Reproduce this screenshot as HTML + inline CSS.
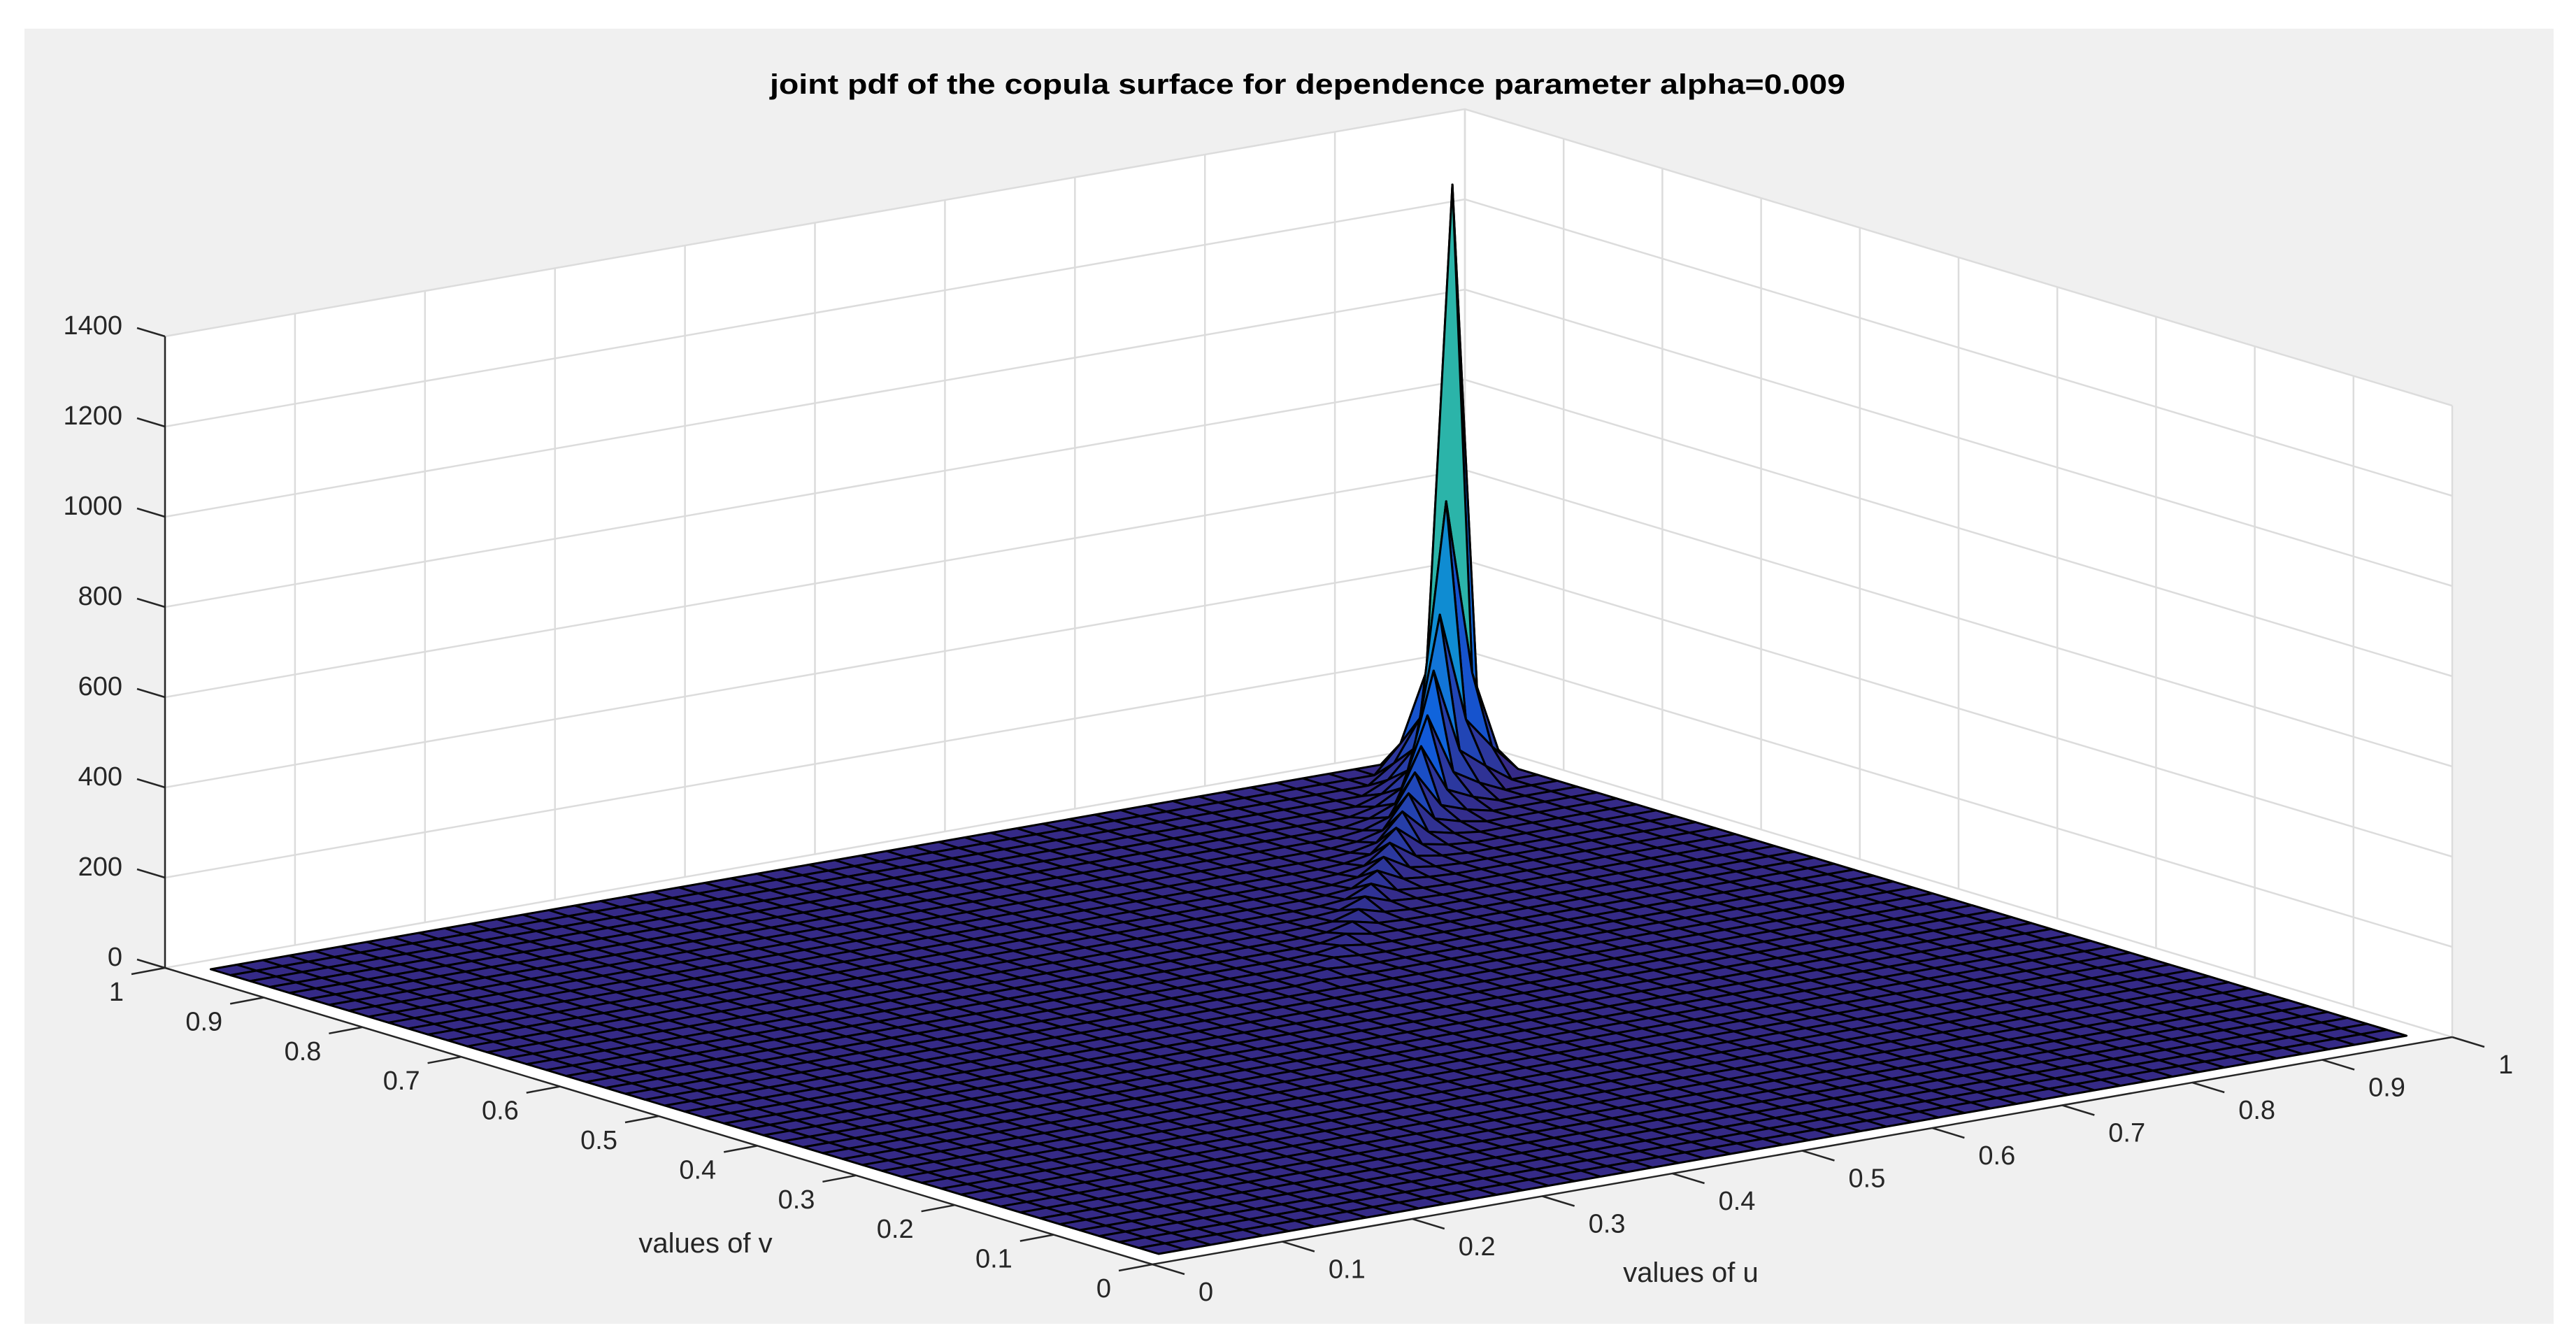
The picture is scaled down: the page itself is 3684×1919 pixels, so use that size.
<!DOCTYPE html>
<html>
<head>
<meta charset="utf-8">
<style>
  html,body{margin:0;padding:0;background:#ffffff;}
  svg{display:block;}
  text{font-family:"Liberation Sans", sans-serif;}
</style>
</head>
<body>
<svg id="chart" width="3684" height="1919" viewBox="0 0 3684 1919" xmlns="http://www.w3.org/2000/svg">
  <rect x="35" y="41" width="3617" height="1852" fill="#f0f0f0"/>
  <g id="walls"></g>
  <g id="surface"></g>
  <g id="axes"></g>
  <text x="1101" y="134" font-size="40" font-weight="bold" fill="#000" textLength="1538" lengthAdjust="spacingAndGlyphs">joint pdf of the copula surface for dependence parameter alpha=0.009</text>
  <text x="2418" y="1833" font-size="40" fill="#262626" text-anchor="middle">values of u</text>
  <text x="1009" y="1791" font-size="40" fill="#262626" text-anchor="middle">values of v</text>
</svg>
<script>
// ---- data ----
const uTicks = [0, 0.1, 0.2, 0.3, 0.4, 0.5, 0.6, 0.7, 0.8, 0.9, 1];
const vTicks = [0, 0.1, 0.2, 0.3, 0.4, 0.5, 0.6, 0.7, 0.8, 0.9, 1];
const zTicks = [0, 200, 400, 600, 800, 1000, 1200, 1400];
const uTickLabels = ["0","0.1","0.2","0.3","0.4","0.5","0.6","0.7","0.8","0.9","1"];
const vTickLabels = ["0","0.1","0.2","0.3","0.4","0.5","0.6","0.7","0.8","0.9","1"];
const zTickLabels = ["0","200","400","600","800","1000","1200","1400"];
const gridStart = 0.02, gridStep = 0.02, gridCount = 49;
const ridgeT    = [0.98, 0.96, 0.94, 0.92, 0.90, 0.88, 0.86, 0.84, 0.82, 0.80, 0.78, 0.76, 0.74, 0.72, 0.70, 0.68, 0.66, 0.64, 0.62, 0.60, 0.58, 0.56, 0.54];
const ridgeDiag = [200, 1279, 600, 372, 271, 195, 150, 115, 92, 75, 62, 52, 44, 37, 31, 26, 21, 17, 13, 10, 7, 5, 3];
const ridgeOff  = [90, 210, 130, 85, 60, 44, 33, 26, 20, 16, 13, 11, 9, 7, 6, 5, 4, 3, 2, 2, 1, 1, 0];
const ridgeOff2 = [30, 60, 40, 26, 18, 13, 10, 7, 5, 4, 3, 3, 2, 2, 1, 1, 1, 0, 0, 0, 0, 0, 0];

// ---- projection ----
const F = [1648, 1808];
const UV = [1859, -325];
const VV = [-1412, -424];
const ZS = 903 / 1400;
function P(u, v, z) { return [F[0] + u * UV[0] + v * VV[0], F[1] + u * UV[1] + v * VV[1] - z * ZS]; }
const NS = "http://www.w3.org/2000/svg";
function mk(tag, attrs, parent) { const e = document.createElementNS(NS, tag); for (const k in attrs) e.setAttribute(k, attrs[k]); parent.appendChild(e); return e; }
function pts(a) { return a.map(p => p[0].toFixed(1) + "," + p[1].toFixed(1)).join(" "); }

const walls = document.getElementById("walls");
const surf = document.getElementById("surface");
const axes = document.getElementById("axes");
const zMax = zTicks[zTicks.length - 1];
const gridColor = "#dcdcdc";

let w;
w = mk("polygon", {points: pts([P(0,1,0), P(1,1,0), P(1,1,zMax), P(0,1,zMax)]), fill: "#fff"}, walls);


w = mk("polygon", {points: pts([P(1,1,0), P(1,0,0), P(1,0,zMax), P(1,1,zMax)]), fill: "#fff"}, walls);


w = mk("polygon", {points: pts([P(0,0,0), P(1,0,0), P(1,1,0), P(0,1,0)]), fill: "#fff"}, walls);



uTicks.forEach(u => {
  const a = P(u,1,0), b = P(u,1,zMax);
  const l = mk("line", {x1:a[0], y1:a[1], x2:b[0], y2:b[1], stroke: gridColor, "stroke-width": 2.5}, walls);
  
  
});
vTicks.forEach(v => {
  const a = P(1,v,0), b = P(1,v,zMax);
  const l = mk("line", {x1:a[0], y1:a[1], x2:b[0], y2:b[1], stroke: gridColor, "stroke-width": 2.5}, walls);
  
  
});
zTicks.forEach(z => {
  const a = P(0,1,z), b = P(1,1,z), c = P(1,0,z);
  const l = mk("polyline", {points: pts([a,b,c]), fill: "none", stroke: gridColor, "stroke-width": 2.5}, walls);
  
  
});

// ---- surface data matrix ----
const grid = [];
for (let i = 0; i < gridCount; i++) grid.push(+(gridStart + i * gridStep).toFixed(4));
const Z = grid.map(() => grid.map(() => 0));
function idx(t) { return Math.round((t - gridStart) / gridStep); }
function setMax(i, j, val) { if (i >= 0 && j >= 0 && i < gridCount && j < gridCount) Z[i][j] = Math.max(Z[i][j], val); }
ridgeT.forEach((t, k) => {
  const i = idx(t);
  setMax(i, i, ridgeDiag[k]);
  setMax(i, i-1, ridgeOff[k]); setMax(i-1, i, ridgeOff[k]);
  setMax(i, i-2, ridgeOff2[k]); setMax(i-2, i, ridgeOff2[k]);
});
let cMax = 0; Z.forEach(r => r.forEach(z => { if (z > cMax) cMax = z; }));

const parula = [[0.2081,0.1663,0.5292],[0.0592,0.3599,0.8684],[0.0780,0.5041,0.8385],[0.0232,0.6419,0.7914],[0.2178,0.7250,0.6193],[0.5709,0.7485,0.4494],[0.8507,0.7293,0.3384],[0.9871,0.8000,0.1790],[0.9763,0.9831,0.0538]];
function cmap(t) {
  t = Math.max(0, Math.min(1, t)) * (parula.length - 1);
  const i = Math.min(parula.length - 2, Math.floor(t)), f = t - i;
  const c = parula[i].map((v, k) => Math.round(255 * (v + (parula[i+1][k] - v) * f)));
  return "rgb(" + c.join(",") + ")";
}

const faces = [];
for (let i = 0; i < gridCount - 1; i++) {
  for (let j = 0; j < gridCount - 1; j++) {
    const uc = (grid[i] + grid[i+1]) / 2, vc = (grid[j] + grid[j+1]) / 2;
    faces.push({i, j, d: 325 * uc + 424 * vc});
  }
}
faces.sort((a, b) => b.d - a.d);
faces.forEach(f => {
  const i = f.i, j = f.j;
  const poly = [P(grid[i], grid[j], Z[i][j]), P(grid[i+1], grid[j], Z[i+1][j]), P(grid[i+1], grid[j+1], Z[i+1][j+1]), P(grid[i], grid[j+1], Z[i][j+1])];
  const p = mk("polygon", {points: pts(poly), fill: cmap(Z[i][j] / cMax), stroke: "#000", "stroke-width": 3, "stroke-linejoin": "round"}, surf);
  
  
});

// ---- axes ----
const axColor = "#262626";
let ln, tx;
ln = mk("line", {x1: P(0,0,0)[0], y1: P(0,0,0)[1], x2: P(1,0,0)[0], y2: P(1,0,0)[1], stroke: axColor, "stroke-width": 2.5}, axes);


ln = mk("line", {x1: P(0,1,0)[0], y1: P(0,1,0)[1], x2: P(0,0,0)[0], y2: P(0,0,0)[1], stroke: axColor, "stroke-width": 2.5}, axes);


ln = mk("line", {x1: P(0,1,0)[0], y1: P(0,1,0)[1], x2: P(0,1,zMax)[0], y2: P(0,1,zMax)[1], stroke: axColor, "stroke-width": 2.5}, axes);



uTicks.forEach((u, k) => {
  const a = P(u,0,0);
  const t = mk("line", {x1:a[0], y1:a[1], x2:a[0]+46, y2:a[1]+14, stroke: axColor, "stroke-width": 2.5}, axes);
  
  
  tx = mk("text", {x: a[0]+66, y: a[1]+52, "font-size": 38, fill: axColor}, axes);
  tx.textContent = uTickLabels[k];
  
  
});
vTicks.forEach((v, k) => {
  const a = P(0,v,0);
  const t = mk("line", {x1:a[0], y1:a[1], x2:a[0]-48, y2:a[1]+9, stroke: axColor, "stroke-width": 2.5}, axes);
  
  
  tx = mk("text", {x: a[0]-59, y: a[1]+47, "font-size": 38, fill: axColor, "text-anchor": "end"}, axes);
  tx.textContent = vTickLabels[k];
  
  
});
zTicks.forEach((z, k) => {
  const a = P(0,1,z);
  const t = mk("line", {x1:a[0], y1:a[1], x2:a[0]-40, y2:a[1]-12, stroke: axColor, "stroke-width": 2.5}, axes);
  
  
  tx = mk("text", {x: a[0]-61, y: a[1]-3, "font-size": 38, fill: axColor, "text-anchor": "end"}, axes);
  tx.textContent = zTickLabels[k];
  
  
});
</script>
</body>
</html>
